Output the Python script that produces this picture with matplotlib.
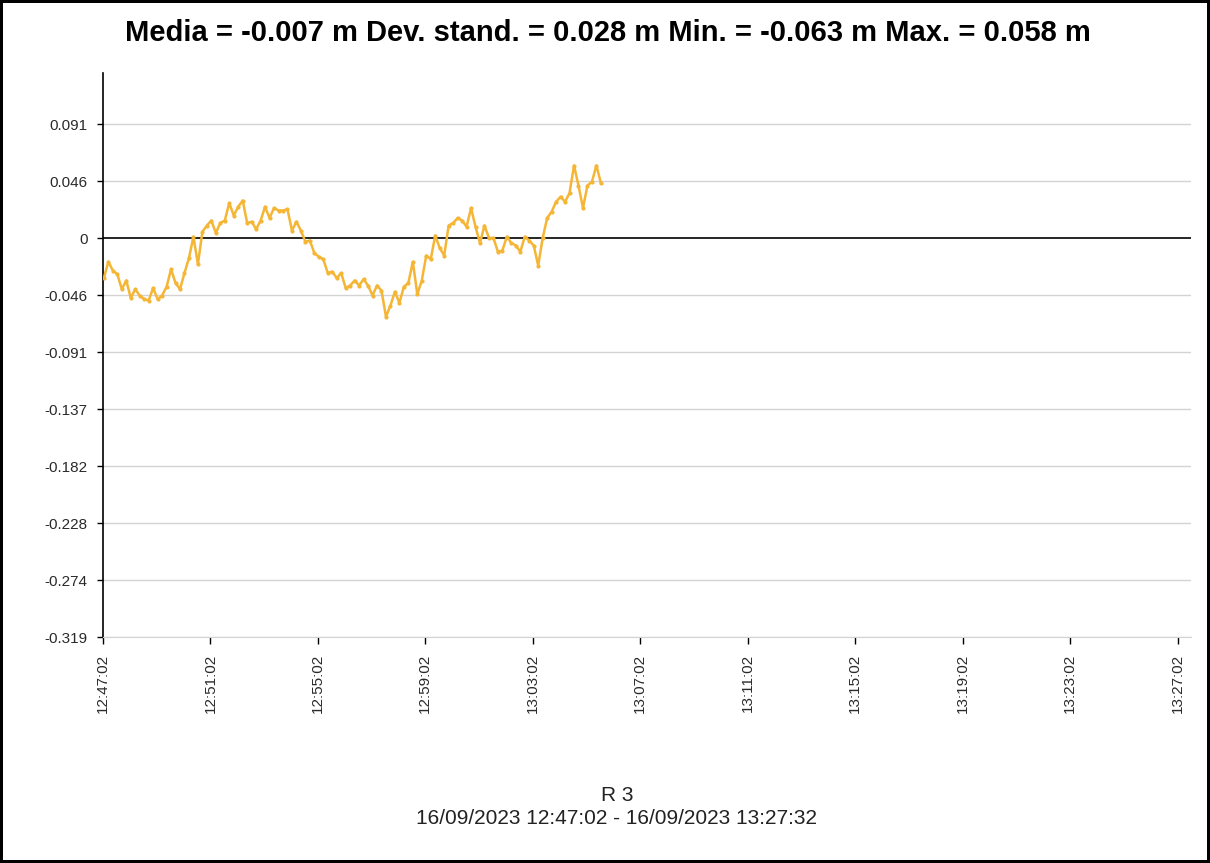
import matplotlib
matplotlib.use('Agg')
import matplotlib.pyplot as plt
import datetime as dt

plt.rcParams['font.family'] = ['Liberation Sans', 'DejaVu Sans']

# readings every 10 s (m)
start = dt.datetime(2023, 9, 16, 12, 47, 4)
step_s = 10
depth = [
    -0.032, -0.019, -0.026, -0.029, -0.041, -0.034, -0.048, -0.041, -0.046, -0.049,
    -0.050, -0.040, -0.049, -0.046, -0.039, -0.025, -0.036, -0.041, -0.028, -0.016,
    0.001,
    -0.021, 0.005, 0.010, 0.014, 0.004, 0.012, 0.014, 0.028, 0.018, 0.025,
    0.030, 0.012, 0.013, 0.007, 0.014, 0.025, 0.016, 0.024, 0.022, 0.022,
    0.023, 0.006, 0.013,
    0.006, -0.003, -0.002, -0.012, -0.015, -0.017, -0.028, -0.027, -0.032, -0.028,
    -0.040, -0.038, -0.034, -0.038, -0.033, -0.038, -0.046, -0.038, -0.042, -0.063,
    -0.054, -0.043,
    -0.052, -0.039, -0.036, -0.019, -0.045, -0.034, -0.014, -0.017, 0.002, -0.008,
    -0.014, 0.010, 0.012, 0.016, 0.014, 0.009, 0.024, 0.009, -0.004, 0.010,
    0.000, 0.000, -0.011, -0.010, 0.001, -0.004, -0.006, -0.011, 0.001, -0.002,
    -0.006, -0.022, 0.000, 0.016, 0.021, 0.029, 0.033, 0.029, 0.036, 0.058,
    0.042, 0.024, 0.042, 0.045, 0.058, 0.044,
]

y_ticks = [0.0912, 0.0456, 0.0, -0.0456, -0.0912, -0.1368, -0.1824, -0.228, -0.2736, -0.3192]
y_labels = ['0.091', '0.046', '0', '-0.046', '-0.091', '-0.137', '-0.182', '-0.228', '-0.274', '-0.319']
x_tick_labels = ['12:47:02', '12:51:02', '12:55:02', '12:59:02', '13:03:02', '13:07:02',
                 '13:11:02', '13:15:02', '13:19:02', '13:23:02', '13:27:02']

title = 'Media = -0.007 m Dev. stand. = 0.028 m Min. = -0.063 m Max. = 0.058 m'
series_name = 'R 3'
period = '16/09/2023 12:47:02 - 16/09/2023 13:27:32'

times = [start + dt.timedelta(seconds=step_s * k) for k in range(len(depth))]
x_ticks = [dt.datetime.combine(start.date(), dt.datetime.strptime(t, '%H:%M:%S').time())
           for t in x_tick_labels]
x_min = x_ticks[0]
x_max = dt.datetime(2023, 9, 16, 13, 27, 32)

W, H = 1210, 863
fig = plt.figure(figsize=(W / 100, H / 100), dpi=100)
fig.patch.set_edgecolor('black')
fig.patch.set_linewidth(3)

ax = fig.add_axes([103 / W, 1 - 637 / H, (1191 - 103) / W, (637 - 73) / H])

for yv in y_ticks:
    if yv == 0:
        continue
    ax.axhline(yv, color='#d3d3d3', linewidth=1, zorder=1)
ax.axhline(0, color='black', linewidth=1.2, zorder=2)

ax.plot(times, depth, color='#f5b535', linewidth=1.8, marker='o', markersize=3,
        markeredgewidth=0, zorder=3)

ax.set_xlim(x_min, x_max)
ax.set_ylim(-0.3192, 0.132)
ax.set_yticks(y_ticks)
ax.set_yticklabels(y_labels)
ax.set_xticks(x_ticks)
ax.set_xticklabels(x_tick_labels, rotation=90)
ax.tick_params(axis='y', length=4, width=1, labelsize=11, labelcolor='#2a2a2a', pad=7)
ax.tick_params(axis='x', length=5, width=1, labelsize=11, labelcolor='#2a2a2a', pad=7)

for s in ['top', 'right']:
    ax.spines[s].set_visible(False)
ax.spines['bottom'].set_color('#d3d3d3')
ax.spines['left'].set_color('black')
ax.spines['left'].set_linewidth(1.2)

fig.text(608 / W, 1 - 33 / H, title, ha='center', va='center', fontsize=21, fontweight='bold')
fig.text(617 / W, 1 - 795 / H, series_name, ha='center', va='center', fontsize=15, color='#222222')
fig.text(617 / W, 1 - 818 / H, period, ha='center', va='center', fontsize=15, color='#222222')

fig.savefig('out.png', dpi=100)
